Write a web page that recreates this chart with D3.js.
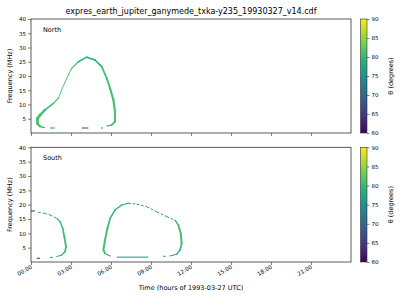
<!DOCTYPE html>
<html>
<head>
<meta charset="utf-8">
<script src="https://cdn.jsdelivr.net/npm/d3@7"></script>
<style>
  body { margin: 0; background: #fff; }
  svg text { font-family: "DejaVu Sans", sans-serif; fill: #000; }
</style>
</head>
<body>
<div id="chart"></div>
<script>
// rows: [time (h), frequency (MHz), theta (deg), spread (h)]
const northArc = [
  [1.0, 1.9, 77, 0.06], [0.68, 2.3, 80, 0.12], [0.5, 3.2, 81, 0.2], [0.47, 4.0, 81, 0.22],
  [0.5, 5.2, 82, 0.22], [0.68, 6.3, 81, 0.2], [1.05, 8.1, 81, 0.16], [1.68, 10.4, 81, 0.1],
  [2.05, 12.2, 81, 0.06], [2.3, 15.1, 82, 0.06], [2.68, 19.2, 82, 0.06], [3.05, 22.7, 81, 0.08],
  [3.55, 25.0, 80, 0.1], [4.18, 26.6, 78, 0.12], [4.8, 25.6, 79, 0.12], [5.3, 23.3, 80, 0.12],
  [5.68, 19.2, 81, 0.14], [5.93, 15.7, 81, 0.15], [6.18, 11.6, 81, 0.16], [6.3, 7.5, 81, 0.16],
  [6.3, 4.0, 81, 0.15], [6.05, 2.8, 79, 0.1], [5.7, 2.5, 77, 0.06]
];
// rows: [start (h), end (h), frequency (MHz), theta (deg)]
const northDashes = [
  [1.43, 1.8, 1.75, 75], [3.8, 4.3, 1.75, 66], [5.25, 5.4, 1.75, 76]
];

const southLeftArc = [
  [1.93, 1.9, 76, 0.06], [2.3, 2.4, 78, 0.08], [2.55, 3.6, 80, 0.12], [2.63, 5.3, 81, 0.14],
  [2.5, 8.8, 81, 0.14], [2.38, 11.7, 81, 0.12], [2.18, 14.1, 80, 0.1], [1.93, 15.2, 77, 0.06]
];
const southLeftTop = [
  [0.55, 17.3, 75], [1.0, 17.0, 75], [1.43, 16.4, 75], [1.93, 15.2, 76]
];
const southRightArc = [
  [5.93, 2.1, 76, 0.06], [5.55, 3.0, 79, 0.1], [5.43, 4.2, 81, 0.15], [5.55, 7.7, 81, 0.15],
  [5.73, 11.7, 81, 0.14], [5.93, 15.2, 80, 0.12], [6.3, 18.1, 79, 0.1], [6.8, 19.9, 78, 0.08],
  [7.3, 20.5, 77, 0.08]
];
const southRightTop = [
  [7.3, 20.5, 76], [7.93, 20.2, 75], [8.68, 19.3, 75], [9.43, 17.5, 75], [10.18, 15.8, 75], [10.8, 14.6, 77]
];
const southRightSide = [
  [10.8, 14.6, 78, 0.08], [11.05, 12.9, 80, 0.12], [11.23, 10.0, 81, 0.15], [11.3, 6.5, 81, 0.15],
  [11.18, 4.2, 80, 0.12], [10.93, 2.7, 77, 0.08], [10.43, 2.1, 76, 0.06]
];
const southDashes = [
  [0.0, 0.3, 17.8, 63], [0.43, 0.68, 1.3, 63], [1.43, 1.63, 1.6, 75],
  [9.9, 10.1, 2.0, 76], [6.43, 8.8, 1.7, 75]
];

const timeTicks = [0, 3, 6, 9, 12, 15, 18, 21];
const freqTicks = [5, 10, 15, 20, 25, 30, 35, 40];
const thetaTicks = [60, 65, 70, 75, 80, 85, 90];
const title = "expres_earth_jupiter_ganymede_txka-y235_19930327_v14.cdf";

const width = 400, height = 300;
const svg = d3.select("#chart").append("svg")
  .attr("width", width).attr("height", height);

const x = d3.scaleLinear().domain([0, 24]).range([31, 351]);
const color = d3.scaleSequential(d3.interpolateViridis).domain([60, 90]);

svg.append("text")
  .attr("x", 191).attr("y", 14)
  .attr("text-anchor", "middle")
  .style("font-size", "8px")
  .text(title);

const defs = svg.append("defs");
const grad = defs.append("linearGradient")
  .attr("id", "viridis").attr("x1", 0).attr("y1", 1).attr("x2", 0).attr("y2", 0);
d3.range(0, 1.01, 0.1).forEach(s => {
  grad.append("stop").attr("offset", s).attr("stop-color", d3.interpolateViridis(s));
});

function panel(top, bottom, name, arcs, dotted, dashes, showX) {
  const y = d3.scaleLinear().domain([0, 40]).range([bottom, top]);
  const g = svg.append("g");

  // solid arcs, segment by segment
  arcs.forEach(arc => {
    for (let i = 0; i < arc.length - 1; i++) {
      const a = arc[i], b = arc[i + 1];
      const w = Math.max(1, x((a[3] + b[3]) / 2) - x(0));
      g.append("line")
        .attr("x1", x(a[0])).attr("y1", y(a[1]))
        .attr("x2", x(b[0])).attr("y2", y(b[1]))
        .attr("stroke", color((a[2] + b[2]) / 2))
        .attr("stroke-width", w)
        .attr("stroke-linecap", "round");
    }
  });

  // sparse parts
  dotted.forEach(arc => {
    for (let i = 0; i < arc.length - 1; i++) {
      const a = arc[i], b = arc[i + 1];
      g.append("line")
        .attr("x1", x(a[0])).attr("y1", y(a[1]))
        .attr("x2", x(b[0])).attr("y2", y(b[1]))
        .attr("stroke", color((a[2] + b[2]) / 2))
        .attr("stroke-width", 1)
        .attr("stroke-dasharray", "2.5,2");
    }
  });

  g.selectAll(".dash").data(dashes).enter().append("line")
    .attr("x1", d => x(d[0])).attr("x2", d => x(d[1]))
    .attr("y1", d => y(d[2])).attr("y2", d => y(d[2]))
    .attr("stroke", d => color(d[3]))
    .attr("stroke-width", 1);

  // frame
  svg.append("rect")
    .attr("x", 31).attr("y", top)
    .attr("width", 320).attr("height", bottom - top)
    .attr("fill", "none").attr("stroke", "#333").attr("stroke-width", 0.8);

  const yAxis = svg.append("g")
    .attr("transform", `translate(31,0)`)
    .call(d3.axisLeft(y).tickValues(freqTicks).tickSize(3).tickPadding(2));
  yAxis.select(".domain").remove();
  yAxis.selectAll("text").style("font-size", "5.5px");
  yAxis.selectAll("line").attr("stroke", "#333").attr("stroke-width", 0.6);

  const xAxis = svg.append("g")
    .attr("transform", `translate(0,${bottom})`)
    .call(d3.axisBottom(x).tickValues(timeTicks).tickSize(3)
      .tickFormat(d => showX ? String(d).padStart(2, "0") + ":00" : ""));
  xAxis.select(".domain").remove();
  xAxis.selectAll("line").attr("stroke", "#333").attr("stroke-width", 0.6);
  xAxis.selectAll("text")
    .style("font-size", "5.5px")
    .attr("text-anchor", "end")
    .attr("dy", null).attr("y", 0)
    .attr("transform", "translate(1,6) rotate(-30)");

  svg.append("text")
    .attr("transform", `translate(12,${(top + bottom) / 2}) rotate(-90)`)
    .attr("text-anchor", "middle")
    .style("font-size", "6.5px")
    .text("Frequency (MHz)");

  svg.append("text")
    .attr("x", 43).attr("y", top + 13)
    .style("font-size", "6.5px")
    .text(name);

  // colorbar
  const cb = d3.scaleLinear().domain([60, 90]).range([bottom, top]);
  svg.append("rect")
    .attr("x", 360.5).attr("y", top)
    .attr("width", 6.5).attr("height", bottom - top)
    .attr("fill", "url(#viridis)")
    .attr("stroke", "#333").attr("stroke-width", 0.6);
  const cAxis = svg.append("g")
    .attr("transform", "translate(367,0)")
    .call(d3.axisRight(cb).tickValues(thetaTicks).tickSize(2.5).tickPadding(2));
  cAxis.select(".domain").remove();
  cAxis.selectAll("text").style("font-size", "5.5px");
  cAxis.selectAll("line").attr("stroke", "#333").attr("stroke-width", 0.6);

  svg.append("text")
    .attr("transform", `translate(393,${(top + bottom) / 2}) rotate(-90)`)
    .attr("text-anchor", "middle")
    .style("font-size", "6.5px")
    .text("θ (degrees)");
}

panel(19, 133, "North", [northArc], [], northDashes, false);
panel(147.3, 262, "South", [southLeftArc, southRightArc, southRightSide],
  [southLeftTop, southRightTop], southDashes, true);

svg.append("text")
  .attr("x", 191).attr("y", 290)
  .attr("text-anchor", "middle")
  .style("font-size", "6.5px")
  .text("Time (hours of 1993-03-27 UTC)");
</script>
</body>
</html>
